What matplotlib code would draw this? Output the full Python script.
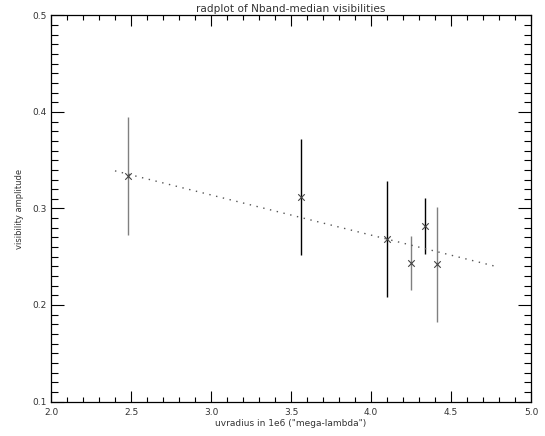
import numpy as np
import matplotlib as mpl

mpl.use('Agg')

import matplotlib.pyplot as plt
import matplotlib.ticker as ticker

# ---- data ----
uvdist = [2.48, 3.56, 4.10, 4.25, 4.34, 4.41]
amp = [0.334, 0.312, 0.268, 0.244, 0.282, 0.242]
amp_err = [0.061, 0.060, 0.060, 0.028, 0.029, 0.060]
bar_colors = ["#808080", "black", "black", "#808080", "black", "#808080"]

# fitted line end points
fit_x = [2.40, 4.78]
fit_y = [0.339, 0.240]

plt.rcParams['font.family'] = ['DejaVu Sans']
plt.rcParams['axes.linewidth'] = 0.9

fig = plt.figure(figsize=(5.45, 4.36), dpi=100)
# plot box: x 51..531 px, y 15.5..401.5 px
ax = fig.add_axes([51 / 545, 1 - 401.5 / 436, 480 / 545, 386 / 436])

txt_col = "#333333"

# error bars
for xv, yv, ev, c in zip(uvdist, amp, amp_err, bar_colors):
    ax.plot([xv, xv], [yv - ev, yv + ev], color=c, lw=1.0, solid_capstyle="butt")

ax.scatter(uvdist, amp, marker="x", s=22, color="#444444", linewidths=0.8, zorder=5)

ax.plot(fit_x, fit_y, color="#555555", lw=1.0, linestyle=(0, (1, 4)))

ax.set_xlim(2.0, 5.0)
ax.set_ylim(0.1, 0.5)

ax.xaxis.set_major_locator(ticker.MultipleLocator(0.5))
ax.xaxis.set_minor_locator(ticker.MultipleLocator(0.1))
ax.yaxis.set_major_locator(ticker.MultipleLocator(0.1))
ax.yaxis.set_minor_locator(ticker.MultipleLocator(0.01))
ax.xaxis.set_major_formatter(ticker.FormatStrFormatter("%.1f"))
ax.yaxis.set_major_formatter(ticker.FormatStrFormatter("%.1f"))

ax.tick_params(which="both", direction="in", top=True, right=True,
               colors="black", labelcolor=txt_col, labelsize=6.5, width=0.8)
ax.tick_params(axis="x", which="major", length=7.7, pad=5)
ax.tick_params(axis="x", which="minor", length=3.9)
ax.tick_params(axis="y", which="major", length=9.6, pad=3)
ax.tick_params(axis="y", which="minor", length=4.8)

ax.set_title("radplot of Nband-median visibilities", fontsize=7.6, color=txt_col, pad=2.5)
ax.set_xlabel('uvradius in 1e6 ("mega-lambda")', fontsize=6.5, color=txt_col, labelpad=1)
ax.set_ylabel("visibility amplitude", fontsize=6, color=txt_col, labelpad=6)

fig.savefig("out.png", dpi=100)
plt.close(fig)
